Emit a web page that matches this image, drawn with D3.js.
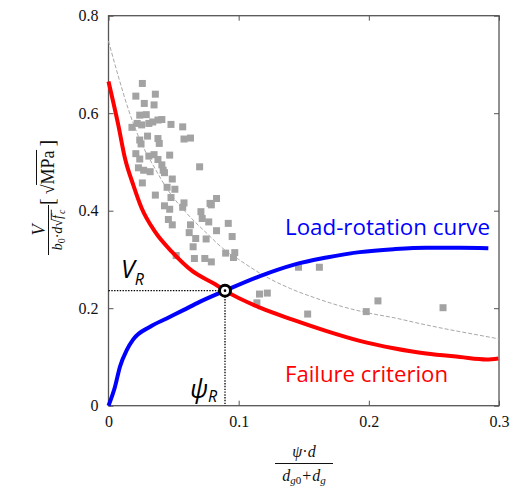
<!DOCTYPE html>
<html>
<head>
<meta charset="utf-8">
<script src="https://cdn.jsdelivr.net/npm/d3@7/dist/d3.min.js"></script>
<style>
body{margin:0;background:#fff}
svg{display:block}
.tick text{font-family:"Liberation Serif",serif !important;font-size:16px !important}
</style>
</head>
<body>
<div id="chart"></div>
<script>
// test results (gray squares)
var testX=[0.026,0.021,0.036,0.0275,0.035,0.024,0.029,0.018,0.022,0.0255,0.031,0.034,0.038,0.041,0.048,0.057,
  0.058,0.063,0.030,0.038,0.039,0.024,0.025,0.021,0.024,0.031,0.035,0.038,0.047,0.041,0.042,0.023,0.027,0.032,
  0.070,0.049,0.026,0.043,0.045,0.051,0.036,0.048,0.058,0.057,0.043,0.047,0.078,0.083,0.079,0.071,0.072,0.077,
  0.046,0.049,0.063,0.062,0.067,0.083,0.092,0.095,0.075,0.065,0.052,0.066,0.074,0.079,0.090,0.097,0.096,
  0.146,0.162,0.116,0.122,0.114,0.153,0.198,0.207,0.257]
var testY=[0.661,0.635,0.639,0.620,0.617,0.596,0.597,0.571,0.579,0.576,0.579,0.582,0.586,0.587,0.577,0.572,
  0.547,0.549,0.553,0.548,0.538,0.545,0.537,0.517,0.506,0.512,0.515,0.505,0.514,0.494,0.483,0.488,0.483,0.480,
  0.490,0.465,0.457,0.478,0.448,0.444,0.432,0.427,0.416,0.407,0.410,0.403,0.415,0.425,0.412,0.398,0.384,0.377,
  0.382,0.371,0.371,0.355,0.343,0.359,0.374,0.347,0.342,0.326,0.308,0.302,0.302,0.295,0.313,0.314,0.304,
  0.284,0.284,0.229,0.231,0.211,0.188,0.193,0.215,0.201]

// failure criterion (red)
var failX=[0,0.0075,0.0127,0.019,0.0255,0.0357,0.0486,0.064,0.082,0.0895,0.1164,0.142,0.1676,0.193,0.219,0.244,0.270,0.2905,0.2995]
var failY=[0.665,0.576,0.507,0.453,0.405,0.357,0.316,0.277,0.249,0.236,0.201,0.176,0.153,0.133,0.118,0.107,0.100,0.095,0.097]

// load-rotation curve (blue)
var loadX=[0,0.005,0.0088,0.014,0.019,0.032,0.0447,0.0575,0.070,0.0895,0.1164,0.142,0.1676,0.193,0.219,0.244,0.270,0.2918]
var loadY=[0,0.039,0.080,0.114,0.136,0.162,0.179,0.196,0.213,0.236,0.266,0.289,0.304,0.315,0.321,0.324,0.324,0.323]

// design curve through tests (gray dashed)
var fitX=[0,0.0075,0.015,0.025,0.035,0.045,0.06,0.075,0.09,0.1,0.12,0.14,0.16,0.18,0.2,0.22,0.24,0.26,0.28,0.3]
var fitY=[0.748,0.676,0.61,0.54,0.49,0.445,0.395,0.355,0.318,0.300,0.266,0.240,0.220,0.203,0.190,0.180,0.168,0.157,0.147,0.137]

var xTicks=[0,0.1,0.2,0.3]
var yTicks=[0,0.2,0.4,0.6,0.8]
var psiR=0.0895, VR=0.236

var W=526,H=486
var SERIF='Liberation Serif'
var svg=d3.select('#chart').append('svg').attr('width',W).attr('height',H)

var x=d3.scaleLinear().domain([0,0.3]).range([108.5,499])
var y=d3.scaleLinear().domain([0,0.8]).range([405.7,15.7])

function pts(xs,ys){return xs.map(function(v,i){return [v,ys[i]]})}
var line=d3.line().x(function(d){return x(d[0])}).y(function(d){return y(d[1])}).curve(d3.curveMonotoneX)
function fmt(d){return d===0?'0':d3.format('.1f')(d)}

// lay out pieces of a formula one after another, return [start,end] of each
function seq(g,x0,y0,pieces){
    var cx=x0, spans=[]
    pieces.forEach(function(p){
	var t=g.append('text').attr('x',cx).attr('y',y0+(p.dy||0))
	    .attr('font-family',SERIF).attr('font-size',p.size)
	    .attr('font-style',p.it?'italic':'normal').attr('fill','#111')
	    .text(p.t)
	var w=t.node().getComputedTextLength()
	spans.push([cx,cx+w])
	cx+=w+(p.gap||0)
    })
    return spans
}

// frame + inner ticks
svg.append('rect')
    .attr('x',x(0)).attr('y',y(0.8))
    .attr('width',x(0.3)-x(0)).attr('height',y(0)-y(0.8))
    .attr('fill','none').attr('stroke','#555').attr('stroke-width',1.3)

var axes=[
    svg.append('g').attr('transform','translate(0,'+y(0)+')')
	.call(d3.axisBottom(x).tickValues(xTicks).tickSize(-5).tickFormat(fmt).tickPadding(10)),
    svg.append('g').attr('transform','translate(0,'+y(0.8)+')')
	.call(d3.axisTop(x).tickValues(xTicks).tickSize(-5).tickFormat('')),
    svg.append('g').attr('transform','translate('+x(0)+',0)')
	.call(d3.axisLeft(y).tickValues(yTicks).tickSize(-5).tickFormat(fmt).tickPadding(10)),
    svg.append('g').attr('transform','translate('+x(0.3)+',0)')
	.call(d3.axisRight(y).tickValues(yTicks).tickSize(-5).tickFormat(''))
]
axes.forEach(function(a){
    a.attr('font-family',SERIF).attr('font-size',16)
    a.select('.domain').remove()
    a.selectAll('.tick line').attr('stroke','#555').attr('stroke-width',1)
    a.selectAll('.tick text').attr('fill','#111').attr('font-family',SERIF).attr('font-size',16)
})

// gray dashed
svg.append('path').datum(pts(fitX,fitY)).attr('d',line)
    .attr('fill','none').attr('stroke','#a8a8a8').attr('stroke-width',1).attr('stroke-dasharray','4,2')

// tests
var sq=7
svg.append('g').selectAll('rect').data(pts(testX,testY)).join('rect')
    .attr('x',function(d){return x(d[0])-sq/2}).attr('y',function(d){return y(d[1])-sq/2})
    .attr('width',sq).attr('height',sq).attr('fill','#a3a3a3')

// dotted guides
svg.append('line').attr('x1',x(0)).attr('x2',x(psiR)).attr('y1',y(VR)).attr('y2',y(VR))
    .attr('stroke','#000').attr('stroke-width',1.3).attr('stroke-dasharray','1.4,1.4')
svg.append('line').attr('x1',x(psiR)).attr('x2',x(psiR)).attr('y1',y(VR)).attr('y2',y(0))
    .attr('stroke','#000').attr('stroke-width',1.3).attr('stroke-dasharray','1.4,1.4')

// curves
svg.append('path').datum(pts(failX,failY)).attr('d',line)
    .attr('fill','none').attr('stroke','#ff0000').attr('stroke-width',4)
svg.append('path').datum(pts(loadX,loadY)).attr('d',line)
    .attr('fill','none').attr('stroke','#0000ff').attr('stroke-width',4)

// intersection marker
svg.append('circle').attr('cx',x(psiR)).attr('cy',y(VR)).attr('r',5.5)
    .attr('fill','#fff').attr('stroke','#000').attr('stroke-width',3)
svg.append('circle').attr('cx',x(psiR)).attr('cy',y(VR)).attr('r',1.3).attr('fill','#000')

// curve labels
svg.append('text').attr('x',285).attr('y',235).text('Load-rotation curve')
    .attr('font-family','Open Sans').attr('font-size',21).attr('fill','#0000ff')
    .attr('textLength',205).attr('lengthAdjust','spacingAndGlyphs')
svg.append('text').attr('x',285).attr('y',382).text('Failure criterion')
    .attr('font-family','Open Sans').attr('font-size',21).attr('fill','#ff0000')
    .attr('textLength',163).attr('lengthAdjust','spacingAndGlyphs')

var vr=svg.append('text').attr('x',121).attr('y',278)
    .attr('font-family','Open Sans').attr('font-style','italic').attr('fill','#000')
vr.append('tspan').attr('font-size',25).text('V')
vr.append('tspan').attr('font-size',16).attr('dy',7).text('R')

var pr=svg.append('text').attr('x',190).attr('y',398)
    .attr('font-family','Open Sans').attr('font-style','italic').attr('fill','#000')
pr.append('tspan').attr('font-size',25).text('\u03c8')
pr.append('tspan').attr('font-size',16).attr('dy',4).text('R')

// x axis label: psi.d / (dg0 + dg)
var xl=svg.append('g')
var xnum=xl.append('g')
var sn=seq(xnum,0,457,[{t:'\u03c8',size:16,it:true},{t:'\u00b7',size:16},{t:'d',size:16,it:true}])
xnum.attr('transform','translate('+(304-sn[sn.length-1][1]/2)+',0)')
xl.append('line').attr('x1',275).attr('x2',333).attr('y1',463.5).attr('y2',463.5)
    .attr('stroke','#111').attr('stroke-width',1)
var xden=xl.append('g')
var s=seq(xden,0,481,[
    {t:'d',size:16,it:true},{t:'g',size:11,it:true,dy:3},{t:'0',size:11,dy:3,gap:1},
    {t:'+',size:16,gap:1},{t:'d',size:16,it:true},{t:'g',size:11,it:true,dy:3}])
xden.attr('transform','translate('+(304-s[s.length-1][1]/2)+',0)')

// y axis label (rotated): V / (b0 d sqrt(fc))  [sqrt(MPa)]
var yl=svg.append('g').attr('transform','rotate(-90)')
yl.append('text').attr('x',-230).attr('y',45).attr('text-anchor','middle')
    .attr('font-family',SERIF).attr('font-size',18).attr('font-style','italic').attr('fill','#111')
    .text('V')
yl.append('line').attr('x1',-255).attr('x2',-205).attr('y1',48.5).attr('y2',48.5)
    .attr('stroke','#111').attr('stroke-width',1)
var yden=yl.append('g')
var sd=seq(yden,0,62,[
    {t:'b',size:14,it:true},{t:'0',size:10,dy:2.5},{t:'\u00b7',size:14},{t:'d',size:14,it:true},
    {t:'\u221a',size:14},{t:'f',size:14,it:true,gap:1},{t:'c',size:10,it:true,dy:2.5}])
var dw=sd[sd.length-1][1]
yden.attr('transform','translate('+(-230-dw/2)+',0)')
yden.append('line').attr('x1',sd[4][1]-0.5).attr('x2',dw).attr('y1',51.3).attr('y2',51.3)
    .attr('stroke','#111').attr('stroke-width',0.9)

var ybr=yl.append('g')
var sb=seq(ybr,-205,53.5,[
    {t:'[',size:20,gap:4},{t:'\u221a',size:18},{t:'MPa',size:18,gap:4},{t:']',size:20}])
ybr.append('line').attr('x1',sb[1][1]-0.5).attr('x2',sb[2][1]+0.5).attr('y1',36.5).attr('y2',36.5)
    .attr('stroke','#111').attr('stroke-width',1)
</script>
</body>
</html>
